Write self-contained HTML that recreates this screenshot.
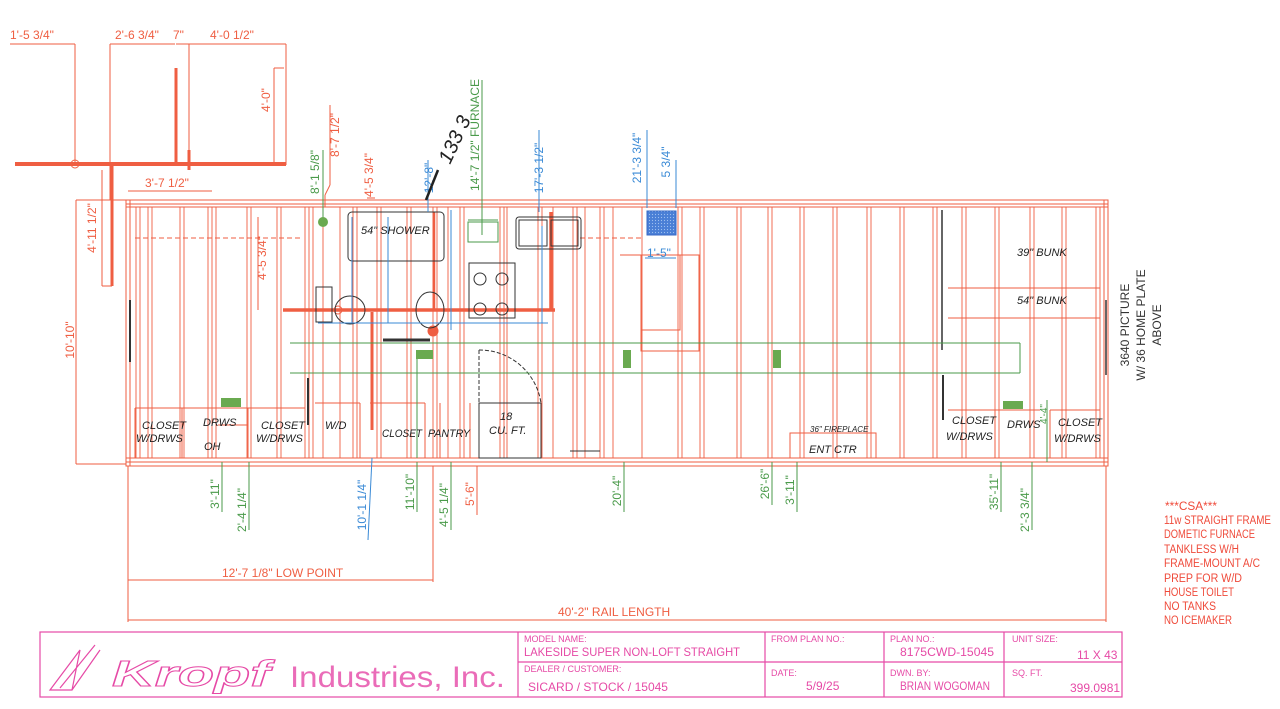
<!DOCTYPE html>
<html><head><meta charset="utf-8"><style>
html,body{margin:0;padding:0;background:#fff;width:1280px;height:709px;overflow:hidden}
svg{display:block}
text{font-family:"Liberation Sans",sans-serif}
</style></head><body>
<svg width="1280" height="709" viewBox="0 0 1280 709" xmlns="http://www.w3.org/2000/svg">
<defs>
<pattern id="hatch" width="3" height="3" patternUnits="userSpaceOnUse"><rect width="3" height="3" fill="#4a7fd6"/><circle cx="1.5" cy="1.5" r="0.6" fill="#9fc0f0"/></pattern>
</defs>
<g stroke="#ef5e42" fill="none" stroke-width="1">
<line x1="10" y1="44" x2="75" y2="44"/><line x1="75" y1="44" x2="75" y2="165"/>
<line x1="110" y1="44" x2="175" y2="44"/><line x1="110" y1="44" x2="110" y2="200"/>
<line x1="176" y1="44" x2="189" y2="44"/><line x1="189" y1="44" x2="286" y2="44"/>
<line x1="286" y1="44" x2="286" y2="165"/><line x1="189" y1="44" x2="189" y2="165"/>
<line x1="274" y1="68" x2="274" y2="165"/><line x1="274" y1="68" x2="284" y2="68"/>
<line x1="15" y1="164" x2="286" y2="164" stroke-width="4"/>
<circle cx="75" cy="164" r="4"/>
<line x1="176" y1="68" x2="176" y2="164" stroke-width="3"/>
<line x1="189" y1="150" x2="189" y2="170" stroke-width="3"/>
<line x1="112" y1="164" x2="112" y2="286" stroke-width="3"/>
<line x1="102" y1="170" x2="102" y2="286"/><line x1="102" y1="286" x2="112" y2="286"/>
<line x1="128" y1="191" x2="212" y2="191"/>
<line x1="76" y1="200" x2="126" y2="200"/><line x1="76" y1="200" x2="76" y2="464"/><line x1="76" y1="464" x2="126" y2="464"/>
<rect x="126" y="200" width="982" height="266"/>
<line x1="126" y1="204" x2="1108" y2="204"/><line x1="126" y1="207" x2="1108" y2="207"/>
<line x1="126" y1="458" x2="1108" y2="458"/><line x1="126" y1="462" x2="1108" y2="462"/>
<line x1="130" y1="200" x2="130" y2="466"/><line x1="1104" y1="200" x2="1104" y2="466"/>
<g stroke-width="0.9">
<path d="M136 207V458M140 207V458M148 207V458M152 207V458M180 207V458M184 207V458M208 207V458M212 207V458M216 207V458M247 207V458M251 207V458M277 207V458M281 207V458M305 207V458M309 207V458M313 207V458M323 207V458M340 207V458M353 207V458M357 207V458M377 207V458M381 207V458M407 207V458M411 207V458M433 207V458M437 207V458M448 207V458M460 207V458M464 207V458M500 207V458M504 207V458M507 207V458M538 207V458M542 207V458M553 207V458M573 207V458M577 207V458M585 207V458M600 207V458M604 207V458M613 207V458M642 207V458M678 207V458M682 207V458M700 207V458M704 207V458M737 207V458M741 207V458M768 207V458M772 207V458M800 207V458M804 207V458M833 207V458M837 207V458M867 207V458M871 207V458M900 207V458M904 207V458M933 207V458M937 207V458M962 207V458M966 207V458M995 207V458M999 207V458M1030 207V458M1034 207V458M1062 207V458M1066 207V458M1096 207V458M1100 207V458"/>
</g>
<line x1="135" y1="238" x2="300" y2="238" stroke-dasharray="5,3"/>
<line x1="580" y1="238" x2="642" y2="238" stroke-dasharray="5,3"/>
<line x1="620" y1="255" x2="642" y2="255"/>
<rect x="641" y="255" width="39" height="75"/><rect x="641" y="255" width="58" height="96"/>
<line x1="948" y1="288" x2="1100" y2="288"/><line x1="948" y1="318" x2="1100" y2="318"/>
<path d="M135 408H305M135 458V408M182 408V458M218 425H248M248 408V458M315 403H360M360 403V458M370 403H425M425 403V458M440 403V458M470 403V458M948 410H1040M995 410V458M1050 410V458M1050 410H1100"/>
<rect x="790" y="433" width="86" height="25"/>
<line x1="128" y1="580" x2="433" y2="580"/><line x1="433" y1="466" x2="433" y2="582"/>
<line x1="128" y1="466" x2="128" y2="622"/>
<line x1="128" y1="620" x2="1106" y2="620"/><line x1="1106" y1="466" x2="1106" y2="622"/>
<line x1="477" y1="466" x2="477" y2="515"/>
<line x1="258" y1="217" x2="258" y2="310"/>
<line x1="330" y1="105" x2="330" y2="185"/><line x1="330" y1="185" x2="325" y2="195"/><line x1="325" y1="195" x2="325" y2="207"/>
<line x1="367" y1="198" x2="375" y2="198"/>
<line x1="283" y1="310" x2="555" y2="310" stroke-width="3.5"/>
<line x1="551" y1="212" x2="551" y2="310" stroke-width="3.5"/>
<line x1="434" y1="212" x2="434" y2="310" stroke-width="2.5"/>
<line x1="372" y1="312" x2="372" y2="430" stroke-width="3"/>
<circle cx="338" cy="310" r="4"/>
<circle cx="433" cy="331" r="5" fill="#ef5e42"/>
</g>
<g stroke="#333" fill="none" stroke-width="1">
<rect x="348" y="212" width="96" height="49" rx="4"/>
<rect x="516" y="217" width="65" height="32" rx="3"/><rect x="519" y="220" width="28" height="26"/><rect x="551" y="220" width="27" height="26"/>
<rect x="469" y="263" width="46" height="55"/>
<circle cx="480" cy="279" r="6"/><circle cx="502" cy="279" r="6"/><circle cx="480" cy="309" r="6"/><circle cx="502" cy="309" r="6"/>
<ellipse cx="350" cy="310" rx="15" ry="14"/><ellipse cx="430" cy="310" rx="14" ry="18"/>
<rect x="316" y="287" width="16" height="35"/>
<rect x="479" y="403" width="62" height="55"/>
<path d="M479 350 A62 62 0 0 1 541 403" stroke-dasharray="4,2"/>
<line x1="479" y1="350" x2="479" y2="403" stroke-dasharray="4,2"/>
<line x1="383" y1="340" x2="430" y2="340" stroke-width="3"/>
<line x1="308" y1="378" x2="308" y2="425" stroke-width="2"/>
<line x1="942" y1="210" x2="942" y2="350" stroke-width="1.5"/>
<line x1="943" y1="375" x2="943" y2="420" stroke-width="2"/>
<line x1="130" y1="300" x2="130" y2="362" stroke-width="2"/>
<line x1="1106" y1="300" x2="1106" y2="375" stroke-width="1.5"/>
<line x1="570" y1="451" x2="600" y2="451"/>
</g>
<g stroke="#3a8ad6" fill="none" stroke-width="1">
<line x1="318" y1="323" x2="548" y2="323"/>
<line x1="352" y1="217" x2="352" y2="323"/><line x1="388" y1="217" x2="388" y2="323"/>
<line x1="451" y1="210" x2="451" y2="330"/><line x1="542" y1="226" x2="542" y2="323"/>
<line x1="428" y1="160" x2="428" y2="212"/><line x1="539" y1="130" x2="539" y2="212"/>
<line x1="647" y1="130" x2="647" y2="208"/><line x1="676" y1="160" x2="676" y2="208"/>
<line x1="645" y1="258" x2="676" y2="258"/>
<line x1="372" y1="458" x2="368" y2="540"/>
</g>
<rect x="647" y="211" width="29" height="24" fill="url(#hatch)" stroke="#3a6ac6"/>
<g stroke="#4a9a4a" fill="none" stroke-width="1">
<line x1="290" y1="343" x2="1020" y2="343"/><line x1="290" y1="373" x2="1020" y2="373"/>
<line x1="1020" y1="343" x2="1020" y2="373"/>
<line x1="323" y1="150" x2="323" y2="220"/><line x1="482" y1="80" x2="482" y2="235"/>
<line x1="468" y1="220" x2="498" y2="220"/><rect x="468" y="222" width="30" height="20"/>
<path d="M222 462V512M249 462V530M417 462V512M451 462V530M624 462V512M772 462V505M797 462V512M1001 462V512M1032 462V530"/>
<line x1="417" y1="358" x2="417" y2="458"/><line x1="1047" y1="400" x2="1047" y2="462"/>
</g>
<g fill="#6aaa50">
<circle cx="323" cy="222" r="5"/>
<rect x="221" y="398" width="20" height="9"/><rect x="416" y="350" width="17" height="9"/>
<rect x="623" y="350" width="8" height="18"/><rect x="773" y="350" width="8" height="18"/>
<rect x="1003" y="401" width="20" height="8"/>
</g>
<g fill="#222" font-size="11" font-style="italic">
<text x="361" y="234">54" SHOWER</text>
<text x="1017" y="256">39" BUNK</text>
<text x="1017" y="304">54" BUNK</text>
<text x="142" y="429">CLOSET</text><text x="136" y="442">W/DRWS</text>
<text x="203" y="426">DRWS</text><text x="204" y="450">OH</text>
<text x="261" y="429">CLOSET</text><text x="256" y="442">W/DRWS</text>
<text x="325" y="429">W/D</text>
<text x="382" y="437" textLength="40" lengthAdjust="spacingAndGlyphs">CLOSET</text><text x="428" y="437" textLength="42" lengthAdjust="spacingAndGlyphs">PANTRY</text>
<text x="500" y="420">18</text><text x="489" y="434">CU. FT.</text>
<text x="809" y="453">ENT CTR</text>
<text x="810" y="432" font-size="8">36" FIREPLACE</text>
<text x="952" y="424">CLOSET</text><text x="946" y="440">W/DRWS</text>
<text x="1007" y="428">DRWS</text>
<text x="1058" y="426">CLOSET</text><text x="1054" y="442">W/DRWS</text>
</g>
<g fill="#ef5e42" font-size="12">
<text x="10" y="39">1'-5 3/4"</text>
<text x="115" y="39">2'-6 3/4"</text><text x="173" y="39">7"</text>
<text x="210" y="39">4'-0 1/2"</text>
<text x="145" y="187">3'-7 1/2"</text>
<text x="222" y="577">12'-7 1/8" LOW POINT</text>
<text x="558" y="616">40'-2" RAIL LENGTH</text>
<text transform="translate(270,100) rotate(-90)" text-anchor="middle">4'-0"</text>
<text transform="translate(96,228) rotate(-90)" text-anchor="middle">4'-11 1/2"</text>
<text transform="translate(74,340) rotate(-90)" text-anchor="middle">10'-10"</text>
<text transform="translate(266,258) rotate(-90)" text-anchor="middle">4'-5 3/4"</text>
<text transform="translate(339,135) rotate(-90)" text-anchor="middle">8'-7 1/2"</text>
<text transform="translate(373,175) rotate(-90)" text-anchor="middle">4'-5 3/4"</text>
<text transform="translate(474,494) rotate(-90)" text-anchor="middle">5'-6"</text>
</g>
<g fill="#4a9a4a" font-size="12">
<text transform="translate(319,172) rotate(-90)" text-anchor="middle">8'-1 5/8"</text>
<text transform="translate(479,135) rotate(-90)" text-anchor="middle">14'-7 1/2" FURNACE</text>
<text transform="translate(219,494) rotate(-90)" text-anchor="middle">3'-11"</text>
<text transform="translate(246,510) rotate(-90)" text-anchor="middle">2'-4 1/4"</text>
<text transform="translate(414,492) rotate(-90)" text-anchor="middle">11'-10"</text>
<text transform="translate(448,505) rotate(-90)" text-anchor="middle">4'-5 1/4"</text>
<text transform="translate(621,491) rotate(-90)" text-anchor="middle">20'-4"</text>
<text transform="translate(769,484) rotate(-90)" text-anchor="middle">26'-6"</text>
<text transform="translate(794,490) rotate(-90)" text-anchor="middle">3'-11"</text>
<text transform="translate(998,492) rotate(-90)" text-anchor="middle">35'-11"</text>
<text transform="translate(1029,510) rotate(-90)" text-anchor="middle">2'-3 3/4"</text>
<text transform="translate(1047,414) rotate(-90)" text-anchor="middle" font-size="10">4'-4"</text>
</g>
<g fill="#3a8ad6" font-size="12">
<text transform="translate(433,178) rotate(-90)" text-anchor="middle">12'-8"</text>
<text transform="translate(543,168) rotate(-90)" text-anchor="middle">17'-3 1/2"</text>
<text transform="translate(641,158) rotate(-90)" text-anchor="middle">21'-3 3/4"</text>
<text transform="translate(670,162) rotate(-90)" text-anchor="middle">5 3/4"</text>
<text x="647" y="257">1'-5"</text>
<text transform="translate(366,505) rotate(-90)" text-anchor="middle">10'-1 1/4"</text>
</g>
<text transform="translate(450,165) rotate(-65)" font-size="20" fill="#222" font-style="italic">133 3</text>
<line x1="426" y1="200" x2="438" y2="170" stroke="#222" stroke-width="2.5"/>
<g fill="#333" font-size="12">
<text transform="translate(1129,325) rotate(-90)" text-anchor="middle">3640 PICTURE</text>
<text transform="translate(1145,325) rotate(-90)" text-anchor="middle">W/ 36 HOME PLATE</text>
<text transform="translate(1161,325) rotate(-90)" text-anchor="middle">ABOVE</text>
</g>
<g fill="#ef4a3a" font-size="11.5">
<text x="1165" y="510" textLength="52" lengthAdjust="spacingAndGlyphs">***CSA***</text>
<text x="1164" y="524" textLength="107" lengthAdjust="spacingAndGlyphs">11w STRAIGHT FRAME</text>
<text x="1164" y="538" textLength="91" lengthAdjust="spacingAndGlyphs">DOMETIC FURNACE</text>
<text x="1164" y="553" textLength="75" lengthAdjust="spacingAndGlyphs">TANKLESS W/H</text>
<text x="1164" y="567" textLength="96" lengthAdjust="spacingAndGlyphs">FRAME-MOUNT A/C</text>
<text x="1164" y="582" textLength="78" lengthAdjust="spacingAndGlyphs">PREP FOR W/D</text>
<text x="1164" y="596" textLength="70" lengthAdjust="spacingAndGlyphs">HOUSE TOILET</text>
<text x="1164" y="610" textLength="52" lengthAdjust="spacingAndGlyphs">NO TANKS</text>
<text x="1164" y="624" textLength="68" lengthAdjust="spacingAndGlyphs">NO ICEMAKER</text>
</g>
<g stroke="#e64aa6" fill="none" stroke-width="1.2">
<rect x="40" y="632" width="1082" height="65"/>
<line x1="518" y1="632" x2="518" y2="697"/><line x1="765" y1="632" x2="765" y2="697"/>
<line x1="884" y1="632" x2="884" y2="697"/><line x1="1004" y1="632" x2="1004" y2="697"/>
<line x1="518" y1="662" x2="1122" y2="662"/>
<path d="M50 690 L80 650 L72 690 Z M60 688 L95 645 M72 690 L100 650"/>
</g>
<g fill="#e64aa6">
<text x="112" y="686" font-size="36" font-style="italic" font-weight="bold" fill="none" stroke="#e64aa6" stroke-width="1" textLength="158" lengthAdjust="spacingAndGlyphs">Kropf</text>
<text x="290" y="687" font-size="30" textLength="215" lengthAdjust="spacingAndGlyphs" fill="#ea6cb8">Industries, Inc.</text>
<text x="524" y="642" font-size="9">MODEL NAME:</text>
<text x="524" y="656" font-size="12" textLength="216" lengthAdjust="spacingAndGlyphs">LAKESIDE SUPER NON-LOFT STRAIGHT</text>
<text x="524" y="672" font-size="9">DEALER / CUSTOMER:</text>
<text x="528" y="691" font-size="12" textLength="140" lengthAdjust="spacingAndGlyphs">SICARD / STOCK / 15045</text>
<text x="771" y="642" font-size="9">FROM PLAN NO.:</text>
<text x="771" y="676" font-size="9">DATE:</text>
<text x="806" y="690" font-size="12">5/9/25</text>
<text x="890" y="642" font-size="9">PLAN NO.:</text>
<text x="900" y="656" font-size="12" textLength="94" lengthAdjust="spacingAndGlyphs">8175CWD-15045</text>
<text x="890" y="676" font-size="9">DWN. BY:</text>
<text x="900" y="690" font-size="12" textLength="90" lengthAdjust="spacingAndGlyphs">BRIAN WOGOMAN</text>
<text x="1012" y="642" font-size="9">UNIT SIZE:</text>
<text x="1077" y="659" font-size="12">11 X 43</text>
<text x="1012" y="676" font-size="9">SQ. FT.</text>
<text x="1070" y="692" font-size="12">399.0981</text>
</g>
</svg>
</body></html>
